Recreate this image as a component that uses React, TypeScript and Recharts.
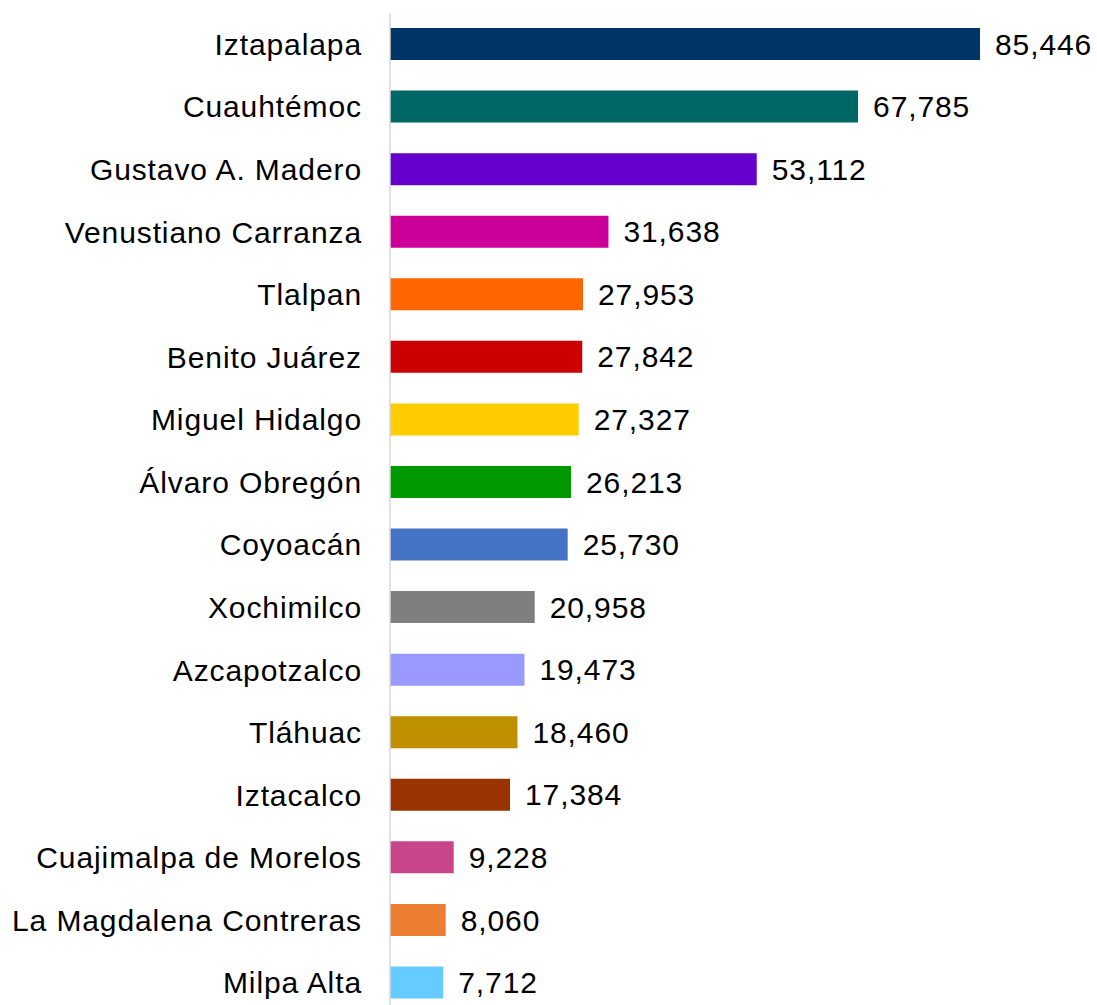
import { BarChart, Bar, XAxis, YAxis, Cell, LabelList } from "recharts";

const alcaldias = [
  "Iztapalapa",
  "Cuauhtémoc",
  "Gustavo A. Madero",
  "Venustiano Carranza",
  "Tlalpan",
  "Benito Juárez",
  "Miguel Hidalgo",
  "Álvaro Obregón",
  "Coyoacán",
  "Xochimilco",
  "Azcapotzalco",
  "Tláhuac",
  "Iztacalco",
  "Cuajimalpa de Morelos",
  "La Magdalena Contreras",
  "Milpa Alta",
];

const valores = [
  85446, 67785, 53112, 31638, 27953, 27842, 27327, 26213, 25730, 20958, 19473,
  18460, 17384, 9228, 8060, 7712,
];

const colores = [
  "#003366",
  "#006666",
  "#6600CC",
  "#CC0099",
  "#FF6600",
  "#CC0000",
  "#FFCC00",
  "#009900",
  "#4472C4",
  "#7F7F7F",
  "#9999FF",
  "#BF9000",
  "#993300",
  "#C9458A",
  "#ED7D31",
  "#66CCFF",
];

const data = alcaldias.map((name, i) => ({ name, value: valores[i] }));

const FONT = "'Liberation Sans', Arial, sans-serif";

export default function App() {
  return (
    <div style={{ position: "fixed", left: 0, top: 0, background: "#fff" }}>
      <BarChart
        width={1097}
        height={1020}
        data={data}
        layout="vertical"
        margin={{ top: 13, right: 117, bottom: 6, left: 0 }}
      >
        <XAxis type="number" hide domain={[0, 85446]} />
        <YAxis
          type="category"
          dataKey="name"
          width={390}
          axisLine={{ stroke: "#d9d9d9", strokeWidth: 1.5 }}
          tickLine={false}
          tickSize={0}
          tickMargin={28}
          interval={0}
          tick={{ fill: "#000", fontSize: 30, fontFamily: FONT, letterSpacing: 0.9 }}
        />
        <Bar dataKey="value" barSize={32} isAnimationActive={false}>
          {data.map((d, i) => (
            <Cell key={d.name} fill={colores[i]} />
          ))}
          <LabelList
            dataKey="value"
            position="right"
            offset={15}
            formatter={(v: any) => Number(v).toLocaleString("en-US")}
            style={{ fill: "#000", fontSize: 30, fontFamily: FONT, letterSpacing: 0.9 }}
          />
        </Bar>
      </BarChart>
    </div>
  );
}
